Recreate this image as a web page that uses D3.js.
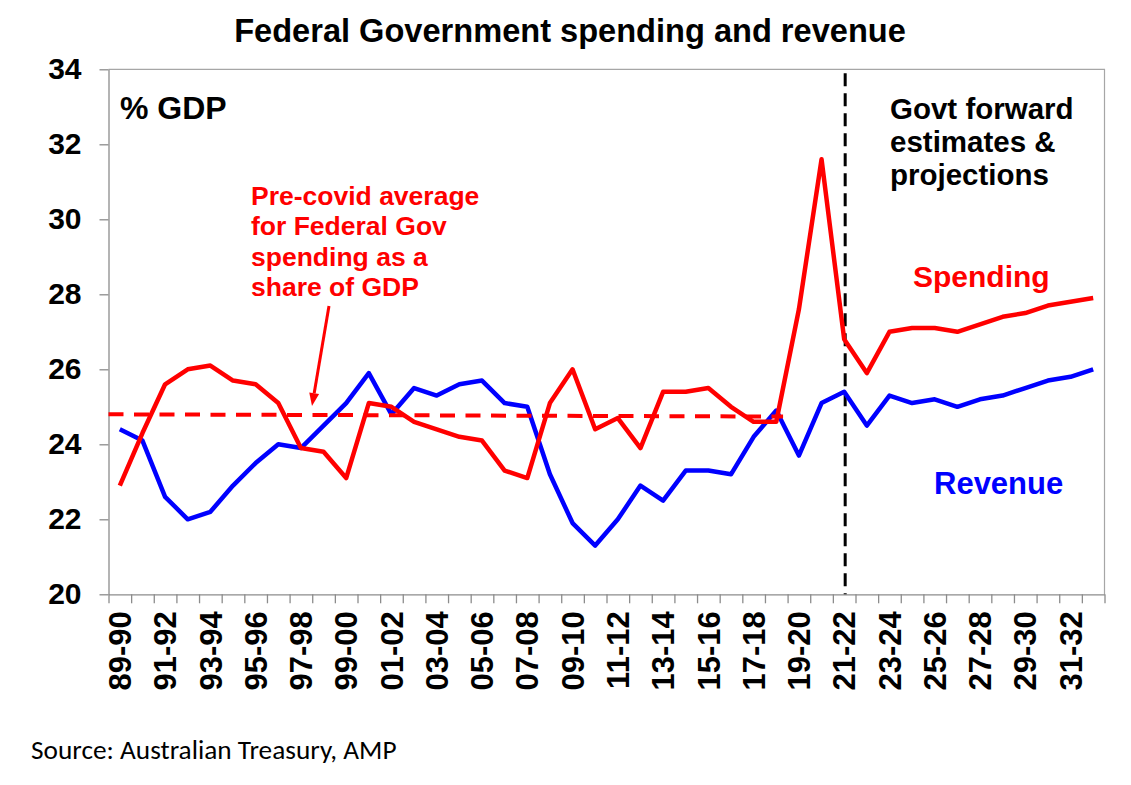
<!DOCTYPE html>
<html>
<head>
<meta charset="utf-8">
<script src="https://cdn.jsdelivr.net/npm/d3@7"></script>
<style>
  html, body { margin: 0; padding: 0; background: #fff; }
  svg { display: block; font-family: "Liberation Sans", Arial, sans-serif; }
</style>
</head>
<body>
<svg id="chart" width="1131" height="785"></svg>
<script>
const years = [
  '89-90', '90-91', '91-92', '92-93', '93-94', '94-95', '95-96', '96-97', '97-98', '98-99',
  '99-00', '00-01', '01-02', '02-03', '03-04', '04-05', '05-06', '06-07', '07-08', '08-09',
  '09-10', '10-11', '11-12', '12-13', '13-14', '14-15', '15-16', '16-17', '17-18', '18-19',
  '19-20', '20-21', '21-22', '22-23', '23-24', '24-25', '25-26', '26-27', '27-28', '28-29',
  '29-30', '30-31', '31-32', '32-33'
];

const spending = [
  22.9, 24.3, 25.6, 26.0, 26.1, 25.7, 25.6, 25.1, 23.9, 23.8,
  23.1, 25.1, 25.0, 24.6, 24.4, 24.2, 24.1, 23.3, 23.1, 25.1,
  26.0, 24.4, 24.7, 23.9, 25.4, 25.4, 25.5, 25.0, 24.6, 24.6,
  27.6, 31.6, 26.8, 25.9, 27.0, 27.1, 27.1, 27.0, 27.2, 27.4,
  27.5, 27.7, 27.8, 27.9
];

const revenue = [
  24.4, 24.1, 22.6, 22.0, 22.2, 22.9, 23.5, 24.0, 23.9, 24.5,
  25.1, 25.9, 24.8, 25.5, 25.3, 25.6, 25.7, 25.1, 25.0, 23.2,
  21.9, 21.3, 22.0, 22.9, 22.5, 23.3, 23.3, 23.2, 24.2, 24.9,
  23.7, 25.1, 25.4, 24.5, 25.3, 25.1, 25.2, 25.0, 25.2, 25.3,
  25.5, 25.7, 25.8, 26.0
];

const yTicks = [20, 22, 24, 26, 28, 30, 32, 34];

// pre-covid average, [year index, % GDP]
const avgLine = [[-0.5, 24.8], [29.3, 24.74]];
// arrow from the note down to the average line
const avgArrow = [[9.24, 27.69], [8.49, 25.02]];
const forecastStart = '21-22';

const noteLines = ['Pre-covid average', 'for Federal Gov', 'spending as a', 'share of GDP'];
const forecastLines = ['Govt forward', 'estimates &', 'projections'];

const RED = '#ff0000';
const BLUE = '#0000ff';
const AXIS = '#8c8c8c';

const plot = { left: 108.5, right: 1104.5, top: 69.3, bottom: 594.3 };

const svg = d3.select('#chart');
svg.append('rect').attr('width', 1131).attr('height', 785).attr('fill', '#fff');

const x = d3.scaleBand().domain(years).range([plot.left, plot.right]);
const xi = d3.scaleLinear().domain([-0.5, years.length - 0.5]).range([plot.left, plot.right]);
const y = d3.scaleLinear().domain([20, 34]).range([plot.bottom, plot.top]);
const cx = (d) => x(d) + x.bandwidth() / 2;

// top & right border of the plot area
svg.append('path')
  .attr('d', `M${plot.left},${plot.top}H${plot.right}V${plot.bottom}`)
  .attr('fill', 'none')
  .attr('stroke', '#a6a6a6')
  .attr('stroke-width', 1.2);

// y axis
const yAxis = svg.append('g')
  .attr('transform', `translate(${plot.left},0)`)
  .call(d3.axisLeft(y).tickValues(yTicks).tickSize(9).tickSizeOuter(0).tickPadding(18));
yAxis.select('.domain').attr('stroke', AXIS).attr('stroke-width', 1.3);
yAxis.selectAll('.tick line').attr('stroke', AXIS).attr('stroke-width', 1.3);
yAxis.selectAll('.tick text')
  .attr('font-family', '"Liberation Sans", Arial, sans-serif')
  .attr('font-size', 30)
  .attr('font-weight', 'bold')
  .attr('fill', '#000');

// x axis: tick marks between categories
const xAxis = svg.append('g')
  .attr('transform', `translate(0,${plot.bottom})`)
  .call(d3.axisBottom(xi)
    .tickValues(d3.range(-0.5, years.length, 1))
    .tickSize(9).tickSizeOuter(0).tickFormat(''));
xAxis.select('.domain').attr('stroke', AXIS).attr('stroke-width', 1.3);
xAxis.selectAll('.tick line').attr('stroke', AXIS).attr('stroke-width', 1.3);

// rotated category labels, every second year
svg.append('g')
  .selectAll('text')
  .data(years.filter((d, i) => i % 2 === 0))
  .join('text')
  .attr('transform', (d) => `translate(${cx(d)},${plot.bottom + 17}) rotate(-90)`)
  .attr('text-anchor', 'end')
  .attr('dy', '0.36em')
  .attr('font-size', 31)
  .attr('font-weight', 'bold')
  .text((d) => d);

// forecast divider
svg.append('line')
  .attr('x1', cx(forecastStart) + 1).attr('x2', cx(forecastStart) + 1)
  .attr('y1', plot.top + 4).attr('y2', plot.bottom)
  .attr('stroke', '#000')
  .attr('stroke-width', 3)
  .attr('stroke-dasharray', '13,7');

// series
const line = d3.line()
  .x((d, i) => cx(years[i]))
  .y((d) => y(d));

svg.append('path')
  .datum(revenue)
  .attr('d', line)
  .attr('fill', 'none')
  .attr('stroke', BLUE)
  .attr('stroke-width', 4.5)
  .attr('stroke-linejoin', 'round');

svg.append('path')
  .datum(spending)
  .attr('d', line)
  .attr('fill', 'none')
  .attr('stroke', RED)
  .attr('stroke-width', 4.5)
  .attr('stroke-linejoin', 'round');

// pre-covid average
svg.append('path')
  .datum(avgLine)
  .attr('d', d3.line().x((d) => xi(d[0])).y((d) => y(d[1])))
  .attr('fill', 'none')
  .attr('stroke', RED)
  .attr('stroke-width', 4)
  .attr('stroke-dasharray', '15,10.5');

// arrow
const [a0, a1] = avgArrow.map((d) => [xi(d[0]), y(d[1])]);
const ang = Math.atan2(a1[1] - a0[1], a1[0] - a0[0]);
const headLen = 13;
const headW = 5;
const base = [a1[0] - headLen * Math.cos(ang), a1[1] - headLen * Math.sin(ang)];
svg.append('line')
  .attr('x1', a0[0]).attr('y1', a0[1])
  .attr('x2', base[0]).attr('y2', base[1])
  .attr('stroke', RED)
  .attr('stroke-width', 3);
svg.append('path')
  .attr('d', `M${a1[0]},${a1[1]}` +
    `L${base[0] - headW * Math.sin(ang)},${base[1] + headW * Math.cos(ang)}` +
    `L${base[0] + headW * Math.sin(ang)},${base[1] - headW * Math.cos(ang)}Z`)
  .attr('fill', RED);

// texts
svg.append('text')
  .attr('x', 570).attr('y', 42)
  .attr('text-anchor', 'middle')
  .attr('font-size', 32.6)
  .attr('font-weight', 'bold')
  .text('Federal Government spending and revenue');

svg.append('text')
  .attr('x', 120).attr('y', 119)
  .attr('font-size', 32)
  .attr('font-weight', 'bold')
  .text('% GDP');

svg.append('g')
  .selectAll('text')
  .data(noteLines)
  .join('text')
  .attr('x', 251)
  .attr('y', (d, i) => 205 + i * 30.4)
  .attr('font-size', 26.5)
  .attr('font-weight', 'bold')
  .attr('fill', RED)
  .text((d) => d);

svg.append('g')
  .selectAll('text')
  .data(forecastLines)
  .join('text')
  .attr('x', 890)
  .attr('y', (d, i) => 119 + i * 33)
  .attr('font-size', 29.5)
  .attr('font-weight', 'bold')
  .text((d) => d);

svg.append('text')
  .attr('x', 913).attr('y', 287)
  .attr('font-size', 30)
  .attr('font-weight', 'bold')
  .attr('fill', RED)
  .text('Spending');

svg.append('text')
  .attr('x', 934).attr('y', 494)
  .attr('font-size', 31)
  .attr('font-weight', 'bold')
  .attr('fill', BLUE)
  .text('Revenue');

svg.append('text')
  .attr('x', 31).attr('y', 759)
  .attr('font-family', 'Carlito, Calibri, Lato, sans-serif')
  .attr('font-size', 27.3)
  .text('Source: Australian Treasury, AMP');
</script>
</body>
</html>
